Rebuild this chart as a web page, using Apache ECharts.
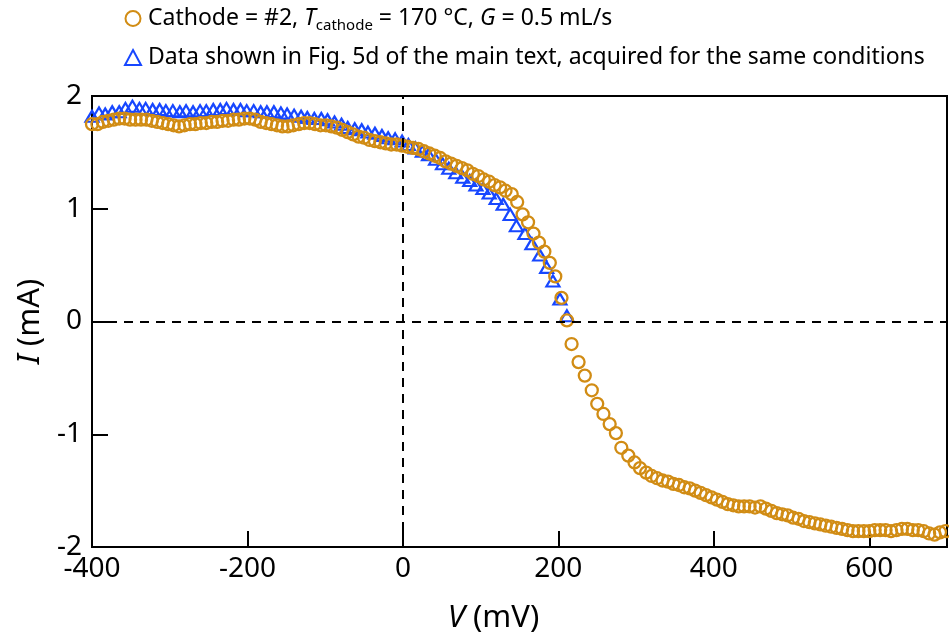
<!DOCTYPE html>
<html>
<head>
<meta charset="utf-8">
<script src="https://cdn.jsdelivr.net/npm/echarts@6/dist/echarts.min.js"></script>
<style>
html,body{margin:0;padding:0;background:#fff;}
#c{width:949px;height:639px;}
</style>
</head>
<body>
<div id="c"></div>
<script>
// X tick values and labels
const xTicks = [-400, -200, 0, 200, 400, 600];
const yTicks = [-2, -1, 0, 1, 2];

// Series 1: Cathode = #2 (orange circles)
const orangeV = [-400,-393,-386,-379,-372,-365,-358,-351,-344,-337,-330,-323,-316,-309,-302,-295,-288,-281,-274,-267,-260,-253,-246,-239,-232,-225,-218,-211,-204,-197,-190,-183,-176,-169,-162,-155,-148,-141,-134,-127,-120,-113,-106,-99,-92,-85,-78,-71,-64,-57,-50,-43,-36,-29,-22,-15,-8,-1,6,13,20,27,34,41,48,55,62,69,76,83,90,97,104,111,118,125,132,140,147,154,161,168,175,182,189,196,204,211,217,226,234,243,250,258,266,274,281,290,298,305,313,320,327,334,341,348,355,362,369,376,383,390,397,404,411,418,425,432,439,446,453,460,467,474,481,488,495,502,509,516,523,530,537,544,551,558,565,572,579,586,593,600,607,614,621,628,635,642,649,656,663,670,677,684,691,698];
const orangeI = [1.75,1.75,1.77,1.78,1.79,1.80,1.80,1.79,1.79,1.79,1.79,1.78,1.77,1.76,1.75,1.74,1.73,1.74,1.75,1.75,1.76,1.76,1.77,1.77,1.78,1.78,1.79,1.79,1.80,1.80,1.79,1.77,1.76,1.75,1.74,1.73,1.73,1.74,1.75,1.76,1.76,1.75,1.74,1.74,1.73,1.72,1.70,1.68,1.66,1.64,1.63,1.61,1.60,1.59,1.58,1.57,1.57,1.56,1.55,1.54,1.53,1.51,1.49,1.47,1.45,1.42,1.40,1.38,1.36,1.34,1.31,1.29,1.26,1.24,1.21,1.19,1.16,1.13,1.06,0.95,0.88,0.78,0.70,0.62,0.52,0.40,0.21,0.01,-0.20,-0.36,-0.48,-0.61,-0.73,-0.82,-0.91,-0.99,-1.12,-1.19,-1.25,-1.30,-1.34,-1.37,-1.39,-1.41,-1.42,-1.44,-1.45,-1.47,-1.48,-1.50,-1.52,-1.54,-1.56,-1.58,-1.60,-1.62,-1.63,-1.64,-1.64,-1.64,-1.65,-1.64,-1.66,-1.68,-1.70,-1.71,-1.72,-1.74,-1.75,-1.77,-1.78,-1.79,-1.80,-1.81,-1.82,-1.83,-1.84,-1.85,-1.86,-1.86,-1.86,-1.86,-1.85,-1.85,-1.85,-1.86,-1.85,-1.84,-1.84,-1.85,-1.85,-1.86,-1.88,-1.89,-1.87,-1.86];

// Series 2: Fig. 5d data (blue triangles)
const blueV = [-400,-391,-383,-374,-365,-357,-348,-339,-331,-322,-313,-305,-296,-287,-279,-270,-261,-253,-244,-235,-227,-218,-209,-201,-192,-183,-175,-166,-157,-149,-140,-131,-123,-114,-105,-97,-88,-79,-71,-62,-53,-45,-36,-27,-19,-10,-1,7,16,25,33,42,51,59,68,77,86,94,103,111,120,129,138,146,157,166,176,185,193,202,211];
const blueI = [1.82,1.85,1.84,1.86,1.86,1.89,1.91,1.89,1.89,1.88,1.88,1.87,1.87,1.86,1.87,1.86,1.87,1.87,1.88,1.88,1.89,1.88,1.88,1.87,1.87,1.86,1.86,1.86,1.85,1.84,1.83,1.82,1.81,1.80,1.80,1.79,1.77,1.75,1.72,1.71,1.70,1.68,1.67,1.65,1.63,1.62,1.60,1.57,1.54,1.51,1.48,1.44,1.40,1.36,1.32,1.28,1.25,1.21,1.18,1.14,1.09,1.04,0.95,0.85,0.78,0.69,0.59,0.48,0.36,0.20,0.05];

const orangeName = 'Cathode = #2, T_cathode = 170 °C, G = 0.5 mL/s';
const blueName = 'Data shown in Fig. 5d of the main text, acquired for the same conditions';

const ORANGE = '#D18C14';
const BLUE = '#1747FF';
const FONT = "'Noto Sans', 'Open Sans', sans-serif";

const chart = echarts.init(document.getElementById('c'), null, {renderer: 'canvas'});

const option = {
  animation: false,
  backgroundColor: '#fff',
  textStyle: {fontFamily: FONT, color: '#000'},
  grid: {left: 92, right: 2, top: 96, bottom: 92, show: true, borderColor: '#000', borderWidth: 2, containLabel: false},
  legend: {
    orient: 'vertical',
    left: 119,
    top: 2,
    itemGap: 13,
    itemWidth: 16,
    itemHeight: 15,
    data: [orangeName, blueName],
    formatter: function (name) {
      if (name === orangeName) {
        return '{n|Cathode = #2, }{i|T}{s|cathode}{n| = 170 °C, }{i|G}{n| = 0.5 mL/s}';
      }
      return '{n|' + name + '}';
    },
    textStyle: {
      fontFamily: FONT,
      fontSize: 23,
      color: '#000',
      padding: [0, 0, 0, 2],
      rich: {
        n: {fontFamily: FONT, fontSize: 23, color: '#000', lineHeight: 29},
        i: {fontFamily: FONT, fontSize: 23, fontStyle: 'italic', color: '#000', lineHeight: 29},
        s: {fontFamily: FONT, fontSize: 15, color: '#000', verticalAlign: 'bottom', lineHeight: 16}
      }
    }
  },
  xAxis: {
    type: 'value',
    min: -400,
    max: 700,
    interval: 200,
    name: '{i|V} (mV)',
    nameLocation: 'middle',
    nameGap: 56,
    nameTextStyle: {fontFamily: FONT, fontSize: 31, color: '#000', padding: [0, 52, 0, 0], rich: {i: {fontFamily: FONT, fontSize: 31, fontStyle: 'italic', color: '#000'}}},
    axisLine: {show: true, onZero: false, lineStyle: {color: '#000', width: 2}},
    axisTick: {show: true, inside: true, length: 16, lineStyle: {color: '#000', width: 2}},
    axisLabel: {show: true, fontFamily: FONT, fontSize: 28, color: '#000', margin: 8, showMaxLabel: false,
      formatter: function (v) { return xTicks.indexOf(v) >= 0 ? String(v) : ''; }},
    splitLine: {show: false}
  },
  yAxis: {
    type: 'value',
    min: -2,
    max: 2,
    interval: 1,
    name: '{i|I} (mA)',
    nameLocation: 'middle',
    nameGap: 45,
    nameRotate: 90,
    nameTextStyle: {fontFamily: FONT, fontSize: 31, color: '#000', rich: {i: {fontFamily: FONT, fontSize: 31, fontStyle: 'italic', color: '#000'}}},
    axisLine: {show: true, onZero: false, lineStyle: {color: '#000', width: 2}},
    axisTick: {show: true, inside: true, length: 16, lineStyle: {color: '#000', width: 2}},
    axisLabel: {show: true, fontFamily: FONT, fontSize: 28, color: '#000', margin: 10,
      formatter: function (v) { return yTicks.indexOf(v) >= 0 ? String(v) : ''; }},
    splitLine: {show: false}
  },
  series: [
    {
      name: blueName,
      type: 'scatter',
      symbol: 'triangle',
      symbolSize: [13, 11],
      itemStyle: {color: 'rgba(0,0,0,0)', borderColor: BLUE, borderWidth: 2.2, opacity: 1},
      data: blueV.map((v, k) => [v, blueI[k]]),
      markLine: {
        silent: true,
        symbol: ['none', 'none'],
        label: {show: false},
        lineStyle: {color: '#000', type: [9, 7], width: 2},
        data: [{xAxis: 0}, {yAxis: 0}]
      },
      z: 2
    },
    {
      name: orangeName,
      type: 'scatter',
      symbol: 'circle',
      symbolSize: 12,
      itemStyle: {color: 'rgba(0,0,0,0)', borderColor: ORANGE, borderWidth: 2.3, opacity: 1},
      data: orangeV.map((v, k) => [v, orangeI[k]]),
      z: 3
    }
  ]
};
chart.setOption(option);
</script>
</body>
</html>
